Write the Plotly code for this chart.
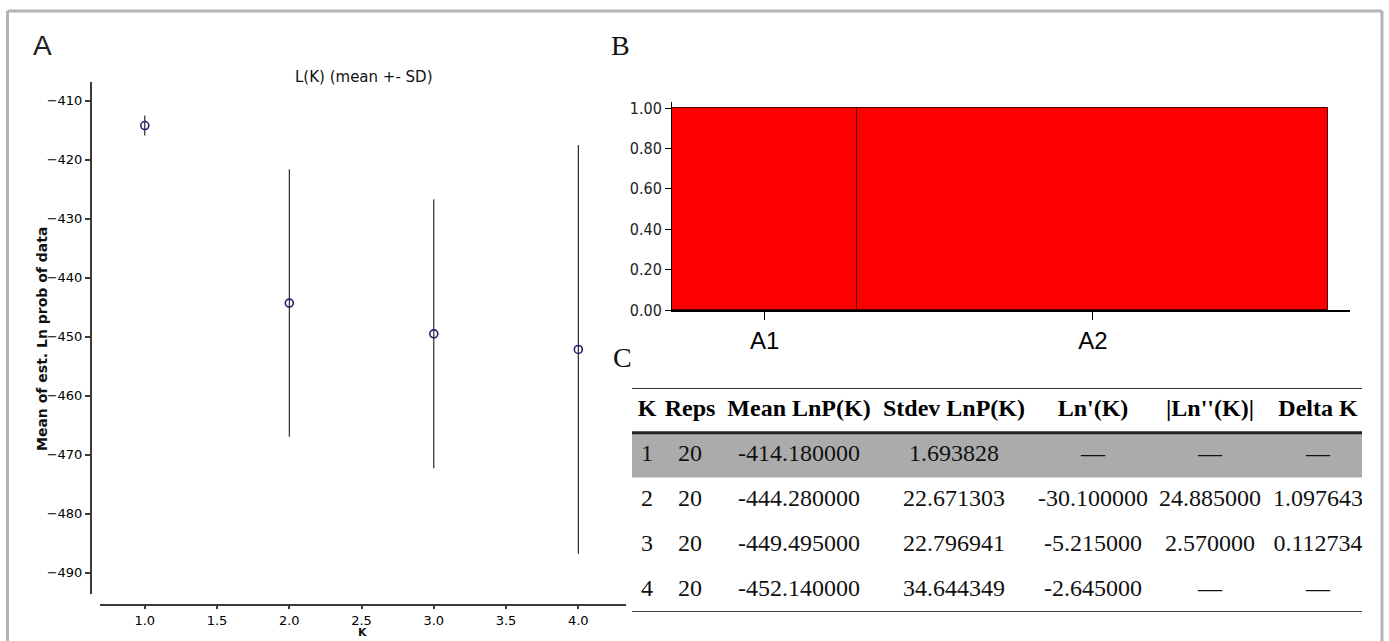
import plotly.graph_objects as go

# Structure Harvester summary (20 replicate runs per K)
k_values = [1, 2, 3, 4]
reps = [20, 20, 20, 20]
mean_lnp = [-414.180000, -444.280000, -449.495000, -452.140000]
sd_lnp = [1.693828, 22.671303, 22.796941, 34.644349]
ln_prime = [None, -30.100000, -5.215000, -2.645000]
ln_double_prime = [None, 24.885000, 2.570000, None]
delta_k = [None, 1.097643, 0.112734, None]

a_xticks = [1.0, 1.5, 2.0, 2.5, 3.0, 3.5, 4.0]
a_yticks = [-410, -420, -430, -440, -450, -460, -470, -480, -490]

# STRUCTURE membership plot at K = 1
pop_names = ["A1", "A2"]
pop_sizes = [13, 33]
membership = [1.0, 1.0]
b_yticks = [0.0, 0.2, 0.4, 0.6, 0.8, 1.0]

table_header = ["K", "Reps", "Mean LnP(K)", "Stdev LnP(K)", "Ln'(K)", "|Ln''(K)|", "Delta K"]

# ---------------------------------------------------------------- layout helpers
W, H = 1389, 641


def fx(p):
    return p / W


def fy(p):
    return 1 - p / H


def fmt(v):
    return "\u2014" if v is None else f"{v:.6f}"


SANS = "DejaVu Sans"
SERIF = "Liberation Serif"

fig = go.Figure()

# ---------------------------------------------------------------- panel A
fig.add_trace(go.Scatter(
    x=k_values, y=mean_lnp, mode="markers",
    error_y=dict(type="data", array=sd_lnp, visible=True, color="black", thickness=1, width=0),
    marker=dict(symbol="circle-open", size=8, color="#20206e", line=dict(width=1.6)),
    xaxis="x", yaxis="y", showlegend=False, hoverinfo="skip",
))

# ---------------------------------------------------------------- panel B
starts = []
acc = 0
for n in pop_sizes:
    starts.append(acc)
    acc += n
centers = [s + n / 2 for s, n in zip(starts, pop_sizes)]
total = acc

fig.add_trace(go.Bar(
    x=centers, y=membership, width=pop_sizes,
    marker=dict(color="#ff0000", line=dict(color="#4a0000", width=1)),
    xaxis="x2", yaxis="y2", showlegend=False, hoverinfo="skip",
))

# ---------------------------------------------------------------- panel C (table)
col_px = [647, 690, 799, 954, 1093, 1210, 1318]
tab_left, tab_right = 632, 1362
col_x = [(c - tab_left) / (tab_right - tab_left) for c in col_px]

fig.add_trace(go.Scatter(
    x=col_x, y=[0] * len(table_header), mode="text", text=table_header,
    textposition="middle center",
    textfont=dict(family=SERIF, size=24, color="black", weight="bold"),
    xaxis="x3", yaxis="y3", showlegend=False, hoverinfo="skip",
))
for i, k in enumerate(k_values):
    row = [str(k), str(reps[i]), fmt(mean_lnp[i]), fmt(sd_lnp[i]),
           fmt(ln_prime[i]), fmt(ln_double_prime[i]), fmt(delta_k[i])]
    fig.add_trace(go.Scatter(
        x=col_x, y=[i + 1] * len(row), mode="text", text=row,
        textposition="middle center",
        textfont=dict(family=SERIF, size=24, color="#111111"),
        xaxis="x3", yaxis="y3", showlegend=False, hoverinfo="skip",
    ))

shapes = [
    # shaded first row
    dict(type="rect", xref="x3 domain", yref="y3", x0=0, x1=1, y0=0.5, y1=1.5,
         fillcolor="#ababab", line=dict(width=0), layer="below"),
    # table rules
    dict(type="line", xref="x3 domain", yref="y3", x0=0, x1=1, y0=-0.5, y1=-0.5,
         line=dict(color="#333333", width=2)),
    dict(type="line", xref="x3 domain", yref="y3", x0=0, x1=1, y0=0.5, y1=0.5,
         line=dict(color="#222222", width=3)),
    dict(type="line", xref="x3 domain", yref="y3", x0=0, x1=1, y0=4.5, y1=4.5,
         line=dict(color="#444444", width=2)),
    # outer frame
    dict(type="line", xref="paper", yref="paper", x0=fx(7.5), x1=fx(7.5), y0=0, y1=fy(11),
         line=dict(color="#b4b4b4", width=3)),
    dict(type="line", xref="paper", yref="paper", x0=fx(7.5), x1=fx(1382), y0=fy(11), y1=fy(11),
         line=dict(color="#b4b4b4", width=3)),
    dict(type="line", xref="paper", yref="paper", x0=fx(1382), x1=fx(1382), y0=fy(11), y1=0,
         line=dict(color="#b4b4b4", width=3)),
]


def label(text, x, y, font, **kw):
    d = dict(text=text, x=fx(x), y=fy(y), xref="paper", yref="paper", showarrow=False,
             xanchor="center", yanchor="middle", font=font)
    d.update(kw)
    return d


annotations = [
    label("A", 42, 45, dict(family="Liberation Sans", size=28, color="#222222")),
    label("B", 620, 45, dict(family=SERIF, size=28, color="#111111")),
    label("C", 622, 357, dict(family=SERIF, size=28, color="#111111")),
    label("L(K) (mean +- SD)", 364, 77, dict(family=SANS, size=15, color="#111111")),
    label("Mean of est. Ln prob of data", 42, 339,
          dict(family=SANS, size=14, color="#111111", weight="bold"), textangle=-90),
    label("K", 362, 641, dict(family=SANS, size=11, color="#111111", weight="bold"),
          yanchor="bottom"),
]

a_tickfont = dict(family=SANS, size=13, color="#000000")

fig.update_layout(
    width=W, height=H,
    margin=dict(l=0, r=0, t=0, b=0),
    paper_bgcolor="white", plot_bgcolor="rgba(0,0,0,0)",
    xaxis=dict(domain=[fx(100), fx(626)], range=[0.69, 4.33], anchor="free",
               position=fy(605), tickvals=a_xticks, ticktext=[f"{v:.1f}" for v in a_xticks],
               showgrid=False, zeroline=False, showline=True, linecolor="#3a3a3a", linewidth=2,
               ticks="outside", ticklen=3, tickwidth=1.5, tickcolor="#3a3a3a",
               tickfont=a_tickfont),
    yaxis=dict(domain=[fy(594), fy(82)], range=[-493.6, -406.8], anchor="free",
               position=fx(91), tickvals=a_yticks,
               ticktext=[f"\u2212{abs(v)}" for v in a_yticks],
               showgrid=False, zeroline=False, showline=True, linecolor="#3a3a3a", linewidth=2,
               ticks="outside", ticklen=5, tickwidth=1.5, tickcolor="#3a3a3a",
               tickfont=a_tickfont),
    xaxis2=dict(domain=[fx(672), fx(1350)], range=[0, total * 1.033], anchor="y2",
                showgrid=False, zeroline=False, showline=True, linecolor="black", linewidth=1.5,
                ticks="outside", ticklen=8, tickwidth=1, tickcolor="black",
                tickvals=centers, ticktext=pop_names, ticklabelstandoff=0,
                tickfont=dict(family="Liberation Sans", size=24, color="black"),
                automargin=False),
    yaxis2=dict(domain=[fy(310), fy(102)], range=[0, 1.03], anchor="x2",
                showgrid=False, zeroline=False, showline=True, linecolor="black", linewidth=1,
                ticks="outside", ticklen=6, tickwidth=1, tickcolor="black",
                tickvals=b_yticks, ticktext=[f"{v:.2f}" for v in b_yticks],
                tickfont=dict(family="DejaVu Sans Condensed", size=16, color="#222222"),
                automargin=False),
    xaxis3=dict(domain=[fx(tab_left), fx(tab_right)], range=[0, 1], visible=False, anchor="y3"),
    yaxis3=dict(domain=[fy(612), fy(388)], range=[4.5, -0.5], visible=False, anchor="x3"),
    bargap=0,
    shapes=shapes,
    annotations=annotations,
)

fig.write_html("out.html")
